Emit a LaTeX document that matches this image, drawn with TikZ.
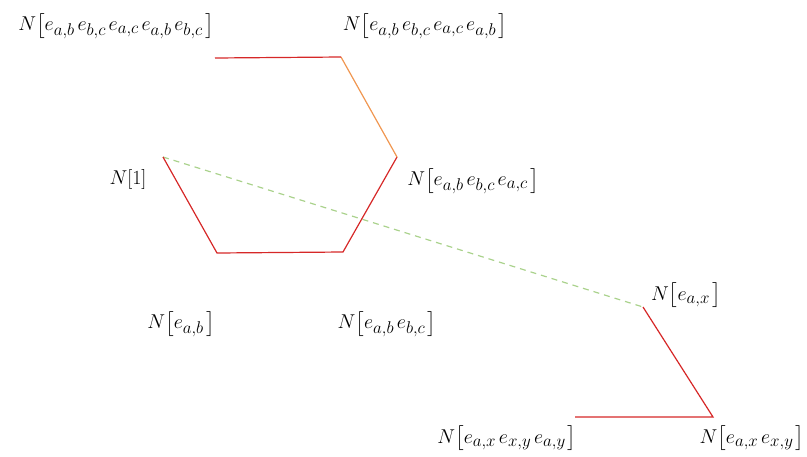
\documentclass[tikz,border=0pt]{standalone}
\usepackage{fix-cm}
\usepackage{amsmath}
\DeclareMathSizes{20}{20}{17}{12}
\newcommand{\ee}[1]{e_{#1}\mkern2.5mu}
\newcommand{\el}[1]{e_{#1}\mkern2mu}
\begin{document}
\begin{tikzpicture}[x=1pt,y=-1pt,
  lbl/.style={inner sep=0pt,font=\fontsize{20}{24}\selectfont},
  redline/.style={draw={rgb,255:red,214;green,40;blue,40},line width=1.2pt},
  orangeline/.style={draw={rgb,255:red,240;green,150;blue,80},line width=1.2pt},
  greendash/.style={draw={rgb,255:red,170;green,210;blue,140},line width=1.2pt,dash pattern=on 6pt off 5pt}]
\useasboundingbox (0,0) rectangle (807,456);
% vertices
\coordinate (p1) at (163,157);
\coordinate (p2) at (217,253);
\coordinate (p3) at (343,252);
\coordinate (p4) at (397,157);
\coordinate (p5) at (341,57);
\coordinate (p6) at (215,58);
\coordinate (qa) at (643,307);
\coordinate (qb) at (713,417);
\coordinate (qc) at (575,417);
% labels
\node[lbl] (l1) at (116,26) {$N\bigl[\ee{a,b}\ee{b,c}\ee{a,c}\ee{a,b}\el{b,c}\bigr]$};
\node[lbl] (l2) at (425,26) {$N\bigl[\ee{a,b}\ee{b,c}\ee{a,c}\el{a,b}\bigr]$};
\node[lbl] (l3) at (128,179) {$N[1]$};
\node[lbl] (l4) at (473,181) {$N\bigl[\ee{a,b}\ee{b,c}\el{a,c}\bigr]$};
\node[lbl] (l5) at (181,324) {$N\bigl[\el{a,b}\bigr]$};
\node[lbl] (l6) at (387,324) {$N\bigl[\ee{a,b}\el{b,c}\bigr]$};
\node[lbl] (l7) at (686,295) {$N\bigl[\el{a,x}\bigr]$};
\node[lbl] (l8) at (507,438) {$N\bigl[\ee{a,x}\ee{x,y}\el{a,y}\bigr]$};
\node[lbl] (l9) at (752,438) {$N\bigl[\ee{a,x}\el{x,y}\bigr]$};
% edges
\draw[greendash] (p1) -- (qa);
\draw[redline] (p1) -- (p2) -- (p3) -- (p4);
\draw[orangeline] (p4) -- (p5);
\draw[redline] (p5) -- (p6);
\draw[redline] (qa) -- (qb) -- (qc);
\end{tikzpicture}
\end{document}
